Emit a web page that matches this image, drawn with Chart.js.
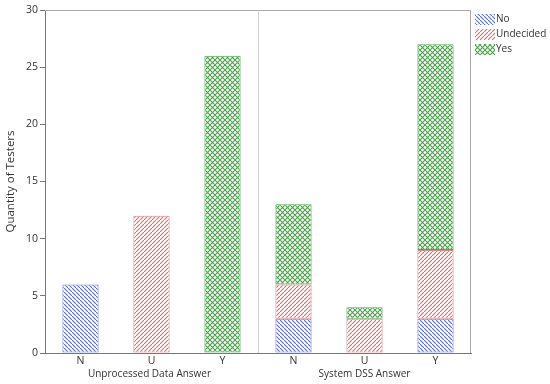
<!DOCTYPE html>
<html>
<head>
<meta charset="utf-8">
<script src="https://cdn.jsdelivr.net/npm/chart.js@4"></script>
<style>
  html, body { margin: 0; padding: 0; background: #fff; }
  #wrap { width: 550px; height: 384px; }
</style>
</head>
<body>
<div id="wrap"><canvas id="chart" width="550" height="384"></canvas></div>
<script>
const categories = ["N", "U", "Y", "N", "U", "Y"];
const groupLabels = ["Unprocessed Data Answer", "System DSS Answer"];
const noValues = [6, null, null, 3, null, 3];
const undecidedValues = [null, 12, null, 3, 3, 6];
const yesValues = [null, null, 26, 7, 1, 18];
const yTicks = [0, 5, 10, 15, 20, 25, 30];

const FONT = "'Open Sans', 'Noto Sans', sans-serif";

// small hatch tiles for the bar fills
function makePattern(kind, color, size) {
  const c = document.createElement("canvas");
  c.width = size;
  c.height = size;
  const g = c.getContext("2d");
  g.fillStyle = "#fff";
  g.fillRect(0, 0, size, size);
  g.strokeStyle = color;
  g.lineWidth = 1.1;
  g.beginPath();
  if (kind === "back" || kind === "cross") {
    g.moveTo(-1, -1); g.lineTo(size + 1, size + 1);
  }
  if (kind === "fwd" || kind === "cross") {
    g.moveTo(-1, size + 1); g.lineTo(size + 1, -1);
  }
  g.stroke();
  return g.createPattern(c, "repeat");
}

const blue = "#5a6cd6";
const red = "#d86f72";
const green = "#4aa24a";

const datasets = [
  { label: "No", data: noValues, backgroundColor: makePattern("back", blue, 4), borderColor: "#7283e0" },
  { label: "Undecided", data: undecidedValues, backgroundColor: makePattern("fwd", red, 4), borderColor: "#df8487" },
  { label: "Yes", data: yesValues, backgroundColor: makePattern("cross", green, 5), borderColor: "#52a552" },
];
datasets.forEach(d => {
  d.borderWidth = 1;
  d.borderSkipped = false;
  d.barPercentage = 0.51;
  d.categoryPercentage = 1.0;
});

const extras = {
  id: "extras",
  afterDatasetsDraw(chart) {
    const ctx = chart.ctx;
    const a = chart.chartArea;
    const x = chart.scales.x;
    ctx.save();
    // frame top / right
    ctx.strokeStyle = "#a8a8a8";
    ctx.lineWidth = 1;
    ctx.beginPath();
    ctx.moveTo(a.left, a.top + 0.5);
    ctx.lineTo(a.right - 0.5, a.top + 0.5);
    ctx.lineTo(a.right - 0.5, a.bottom);
    ctx.stroke();
    // divider between groups
    const mid = Math.round((x.getPixelForValue(2) + x.getPixelForValue(3)) / 2) + 0.5;
    ctx.strokeStyle = "#d0d0d0";
    ctx.beginPath();
    ctx.moveTo(mid, a.top);
    ctx.lineTo(mid, a.bottom);
    ctx.stroke();
    // group labels
    ctx.fillStyle = "#333";
    ctx.font = "10px " + FONT;
    ctx.textAlign = "center";
    ctx.textBaseline = "middle";
    ctx.fillText(groupLabels[0], x.getPixelForValue(1) - 2, 374);
    ctx.fillText(groupLabels[1], x.getPixelForValue(4), 374);
    // y title
    ctx.save();
    ctx.font = "11.5px " + FONT;
    ctx.translate(11, (a.top + a.bottom) / 2);
    ctx.rotate(-Math.PI / 2);
    ctx.fillText("Quantity of Testers", 0, 0);
    ctx.restore();
    // legend
    ctx.textAlign = "left";
    chart.data.datasets.forEach((d, i) => {
      const yy = 19 + i * 15;
      ctx.fillStyle = d.backgroundColor;
      ctx.fillRect(475, yy - 5, 20, 11);
      ctx.fillStyle = "#333";
      ctx.fillText(d.label, 496, yy);
    });
    ctx.restore();
  }
};

new Chart(document.getElementById("chart"), {
  type: "bar",
  data: { labels: categories, datasets: datasets },
  options: {
    responsive: false,
    animation: false,
    layout: { padding: { left: 0, right: 79, top: 10, bottom: 0 } },
    plugins: { legend: { display: false }, tooltip: { enabled: false } },
    scales: {
      x: {
        stacked: true,
        grid: { display: false, drawTicks: false, tickLength: 0 },
        border: { display: true, color: "#777" },
        ticks: { color: "#333", font: { family: FONT, size: 10.5 }, padding: 2 },
        afterFit(s) { s.height = 31; }
      },
      y: {
        stacked: true,
        min: 0,
        max: 30,
        afterBuildTicks(s) { s.ticks = yTicks.map(v => ({ value: v })); },
        grid: { drawOnChartArea: false, drawTicks: true, tickLength: 5, color: "#777" },
        border: { display: true, color: "#777" },
        ticks: { color: "#333", font: { family: FONT, size: 10.5 }, padding: 2 },
        afterFit(s) { s.width = 45; }
      }
    }
  },
  plugins: [extras]
});
</script>
</body>
</html>
